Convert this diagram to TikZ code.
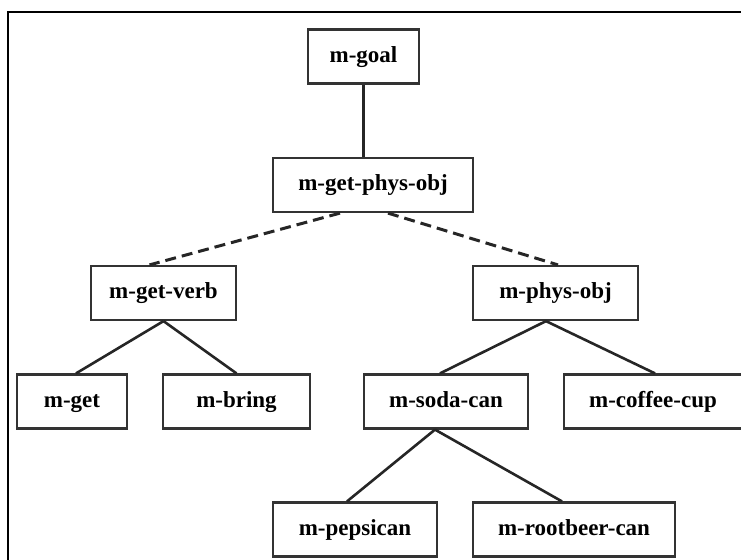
\documentclass[tikz,border=0pt]{standalone}
\usepackage{fontspec}
\setmainfont{Liberation Serif}
\usetikzlibrary{positioning, calc}

\begin{document}
\begin{tikzpicture}[x=0.5pt, y=-0.5pt,
        cls/.style={rectangle, draw=black!80, line width=1.1pt, minimum height=27pt, inner sep=0pt, text height=1.7ex, text depth=0.45ex, font=\fontsize{11.5}{13}\selectfont\bfseries},
        isa/.style={line width=1.3pt, black!85},
        part/.style={isa, line width=1.5pt, dash pattern=on 5.5pt off 3pt}]

        \useasboundingbox (0,0) rectangle (741,559);

        % frame, only top and left edge are inside the page
        \draw[line width=1.2pt] (8,12) rectangle (780,600);

        % root
        \node[cls, minimum width=55.5pt] (goal) at (363.5,56.5) {m-goal};
        \node[cls, minimum width=100pt] (getphys) at (373,185) {m-get-phys-obj};

        \draw[isa] (goal.south) -- (goal.south |- getphys.north);

        % verb and object
        \node[cls, minimum width=72.5pt] (getverb) at (163.5,293) {m-get-verb};
        \node[cls, minimum width=82.5pt] (physobj) at (555.5,293) {m-phys-obj};

        \draw[part] ($(getphys.south)+(-33,0)$) -- ($(getverb.north)+(-14,0)$);
        \draw[part] ($(getphys.south)+(15,0)$) -- ($(physobj.north)+(2.5,0)$);

        % leaves of the verb side
        \node[cls, minimum width=55pt] (get) at (72,401.5) {m-get};
        \node[cls, minimum width=73.5pt] (bring) at (236.5,401.5) {m-bring};

        \draw[isa] (getverb.south) -- ($(get.north)+(4,0)$);
        \draw[isa] (getverb.south) -- (bring.north);

        % objects
        \node[cls, minimum width=82pt] (sodacan) at (446,401.5) {m-soda-can};
        \node[cls, minimum width=89pt] (coffeecup) at (653,401.5) {m-coffee-cup};

        \draw[isa] ($(physobj.south)+(-9.5,0)$) -- ($(sodacan.north)+(-6,0)$);
        \draw[isa] ($(physobj.south)+(-9.5,0)$) -- ($(coffeecup.north)+(2,0)$);

        \node[cls, minimum width=82pt] (pepsican) at (355,529.5) {m-pepsican};
        \node[cls, minimum width=101pt] (rootbeer) at (574,529.5) {m-rootbeer-can};

        \draw[isa] ($(sodacan.south)+(-11,0)$) -- ($(pepsican.north)+(-8,0)$);
        \draw[isa] ($(sodacan.south)+(-11,0)$) -- ($(rootbeer.north)+(-12,0)$);
\end{tikzpicture}
\end{document}
